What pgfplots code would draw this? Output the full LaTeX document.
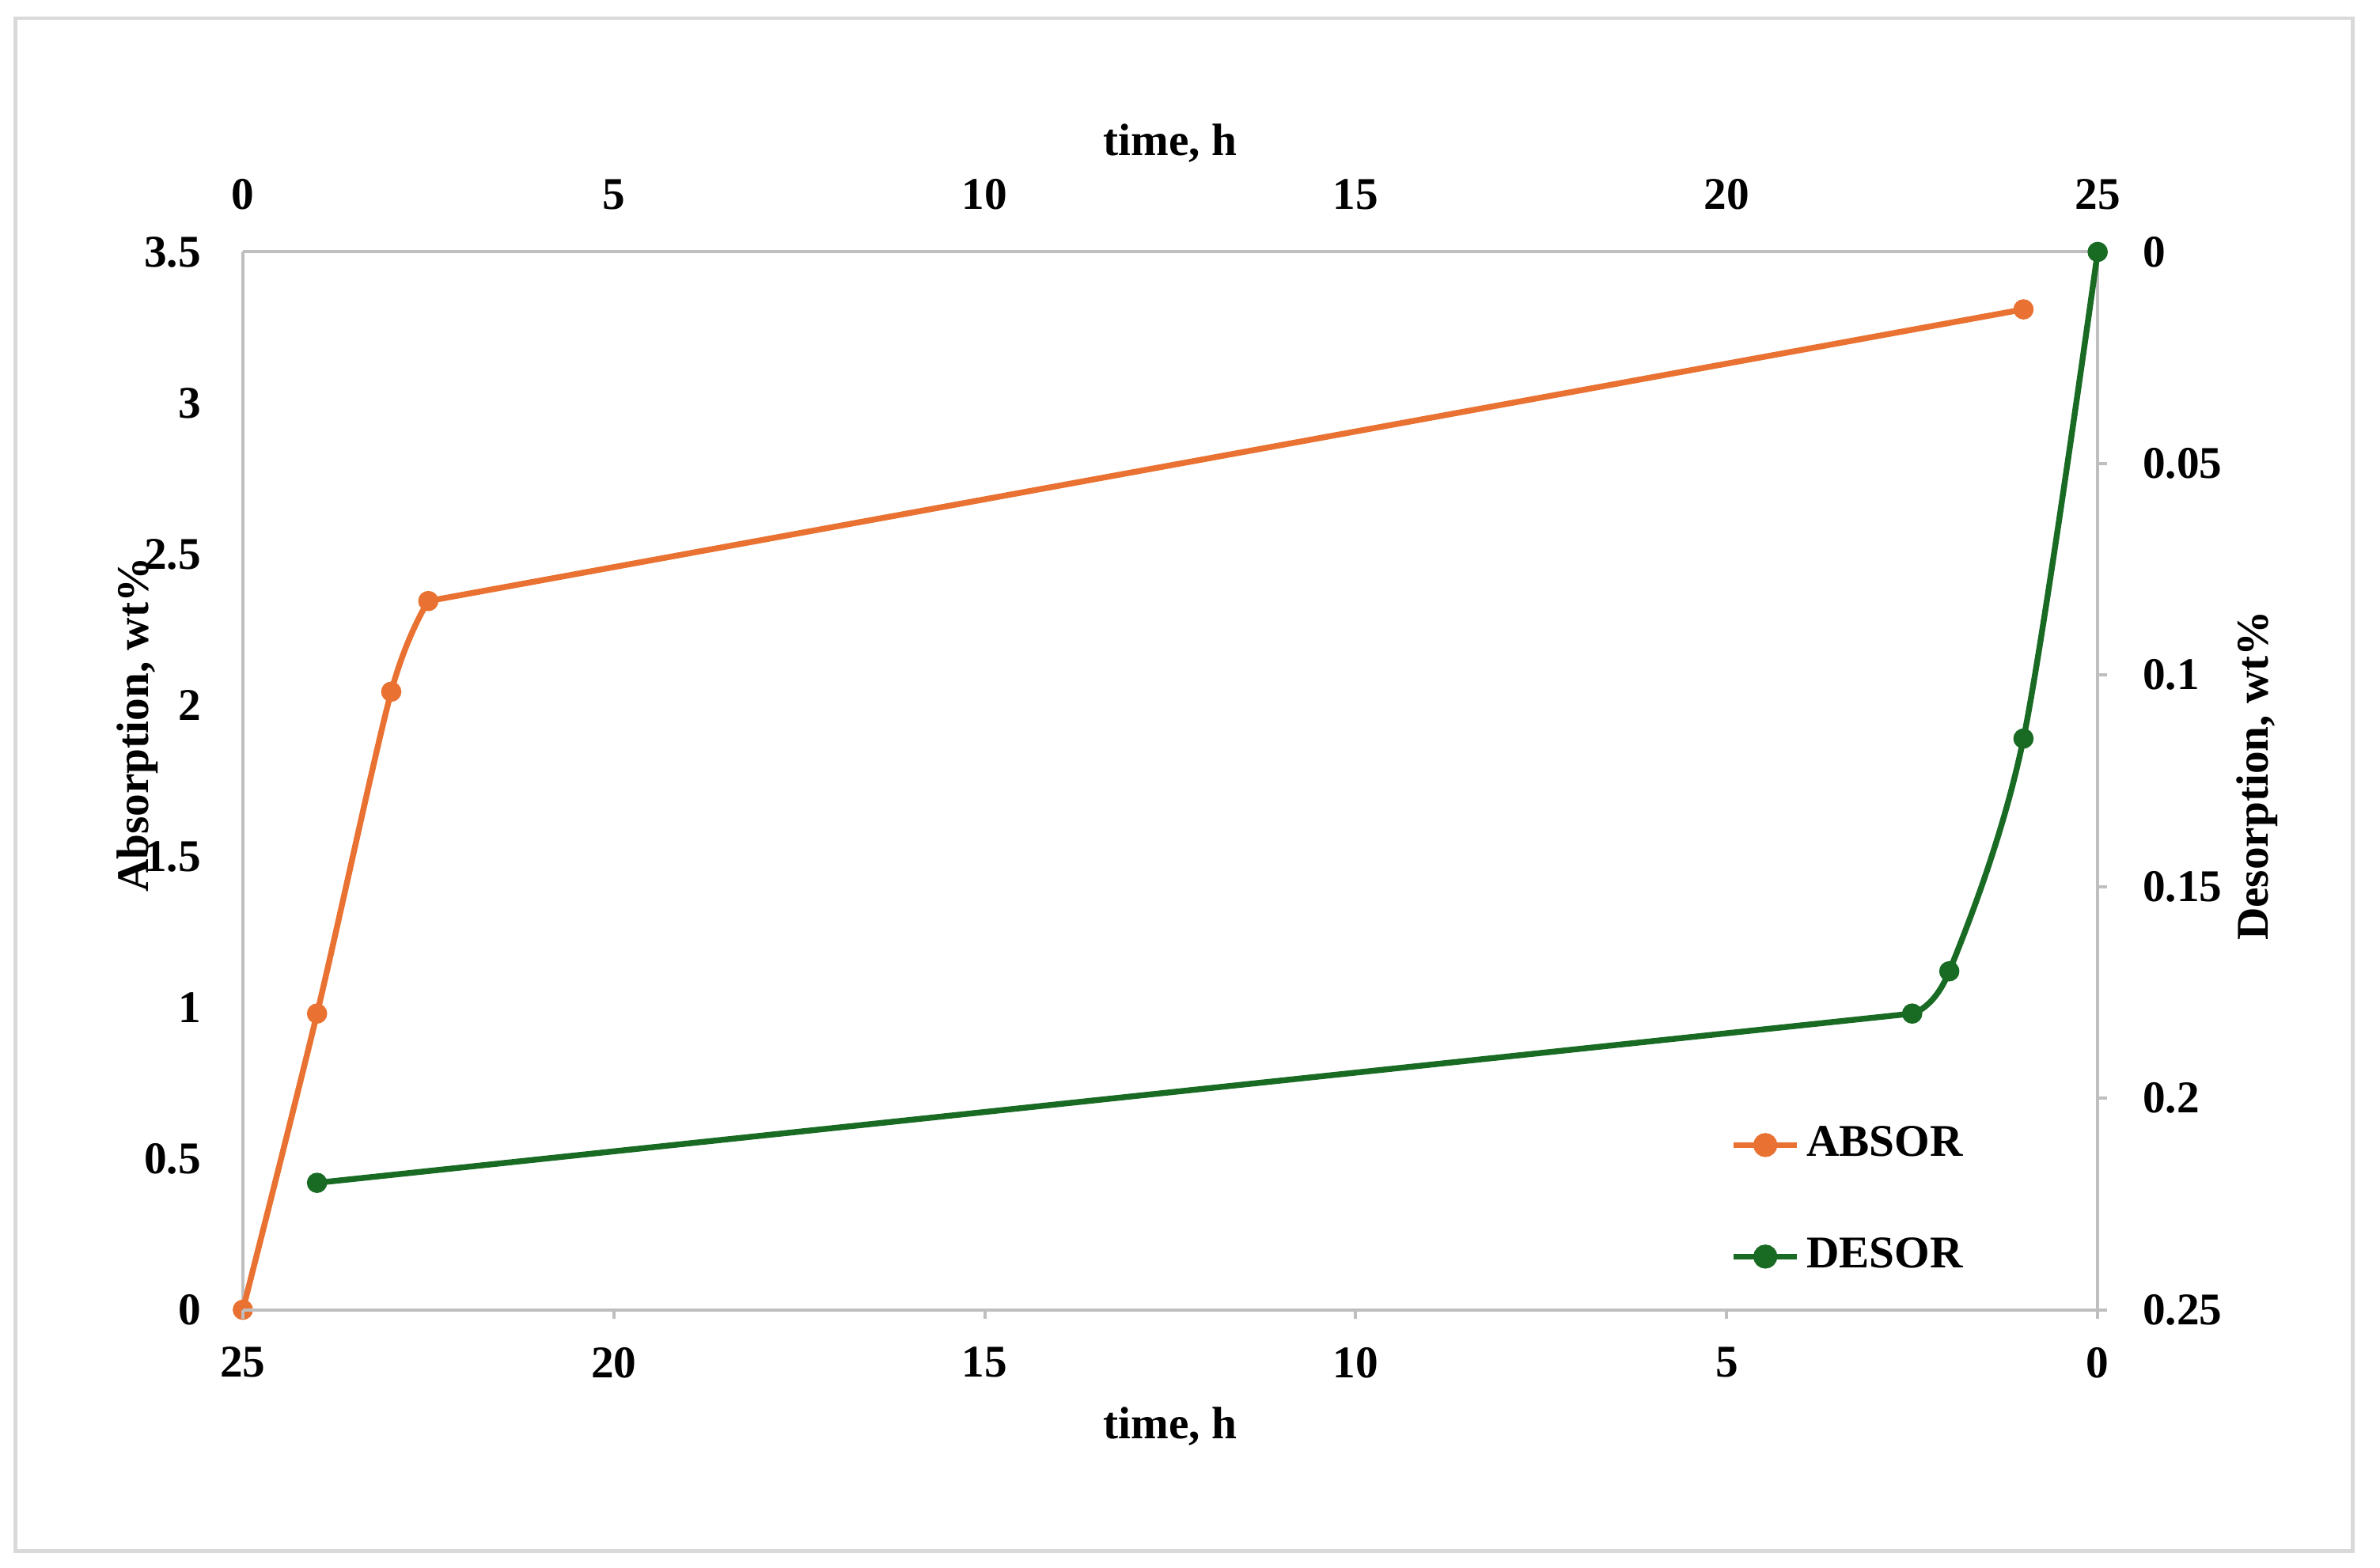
\documentclass[border=0pt]{standalone}
\usepackage{pgfplots}
\pgfplotsset{compat=1.18}
\usepackage{fontspec}
\setmainfont{Liberation Serif}

\definecolor{absor}{HTML}{E97132}
\definecolor{desor}{HTML}{196B24}
\definecolor{axgray}{HTML}{BFBFBF}
\definecolor{framegray}{HTML}{D9D9D9}

\newcommand{\chartfont}{\fontsize{8.5}{10}\selectfont\bfseries}

\pgfplotsset{
  twin/.style={
    width=12.22cm, height=6.97cm, scale only axis,
    xmin=0, xmax=25,
    axis line style={axgray, line width=0.6pt},
    tick style={axgray, line width=0.6pt},
    tick align=outside,
    xtick={0,5,...,25},
    every tick label/.append style={font=\chartfont, text=black, inner sep=0pt},
    label style={font=\chartfont},
    clip=false,
  },
  series/.style={#1, line width=1.1pt},
  dots/.style={#1, only marks, mark=*, mark size=1.7pt},
}

\begin{document}
\begin{tikzpicture}
\path[use as bounding box] (-1.60,-1.70) rectangle (14.08,8.63);
\draw[framegray, line width=0.7pt] (-1.50,-1.59) rectangle (13.90,8.51);

% absorption: top time axis, left y axis
\begin{axis}[twin,
  axis x line*=top, axis y line*=left,
  ymin=0, ymax=3.5,
  ytick={0,0.5,...,3.5},
  yticklabels={0,0.5,1,1.5,2,2.5,3,3.5},
  xticklabels={0,5,10,15,20,25},
  major tick length=0pt,
  xticklabel style={anchor=south, yshift=0.27cm},
  yticklabel style={anchor=east, xshift=-0.27cm},
  xlabel={time, h},
  ylabel={Absorption, wt\%},
  xlabel style={at={(axis description cs:0.5,1.103)}, anchor=center},
  ylabel style={at={(axis description cs:-0.057,0.553)}, anchor=center},
]
\addplot[series=absor, smooth, forget plot] coordinates {(0,0) (1,0.98) (2,2.045) (2.5,2.345)};
\addplot[series=absor, forget plot] coordinates {(2.5,2.345) (24,3.31)};
\addplot[dots=absor, forget plot] coordinates {(0,0) (1,0.98) (2,2.045) (2.5,2.345) (24,3.31)};
\end{axis}

% desorption: bottom time axis (reversed), right y axis (reversed)
\begin{axis}[twin,
  axis x line*=bottom, axis y line*=right,
  x dir=reverse, y dir=reverse,
  ymin=0, ymax=0.25,
  ytick={0,0.05,...,0.25},
  yticklabels={0,0.05,0.1,0.15,0.2,0.25},
  xticklabels={0,5,10,15,20,25},
  major tick length=0.06cm,
  xticklabel style={anchor=north, yshift=-0.18cm},
  yticklabel style={anchor=west, xshift=0.23cm},
  xlabel={time, h},
  ylabel={Desorption, wt\%},
  xlabel style={at={(axis description cs:0.5,-0.1105)}, anchor=center},
  ylabel style={at={(axis description cs:1.086,0.505)}, anchor=center},
  legend style={at={(axis description cs:0.8015,0.103)}, anchor=west,
    draw=none, fill=none, font=\chartfont, row sep=0.40cm, inner sep=0pt,
    nodes={inner sep=1.2pt}},
  legend cell align=left,
  legend image code/.code={\draw[#1, mark repeat=2, mark phase=2]
    plot coordinates {(0cm,0cm) (0.21cm,0cm) (0.42cm,0cm)};},
]
\addplot[series=desor, smooth, forget plot] coordinates {(0,0) (1,0.115) (2,0.170) (2.5,0.180)};
\addplot[series=desor, forget plot] coordinates {(2.5,0.180) (24,0.220)};
\addplot[dots=desor, forget plot] coordinates {(0,0) (1,0.115) (2,0.170) (2.5,0.180) (24,0.220)};
\addlegendimage{absor, line width=1.1pt, mark=*, mark size=1.7pt}
\addlegendentry{ABSOR}
\addlegendimage{desor, line width=1.1pt, mark=*, mark size=1.7pt}
\addlegendentry{DESOR}
\end{axis}
\end{tikzpicture}
\end{document}
